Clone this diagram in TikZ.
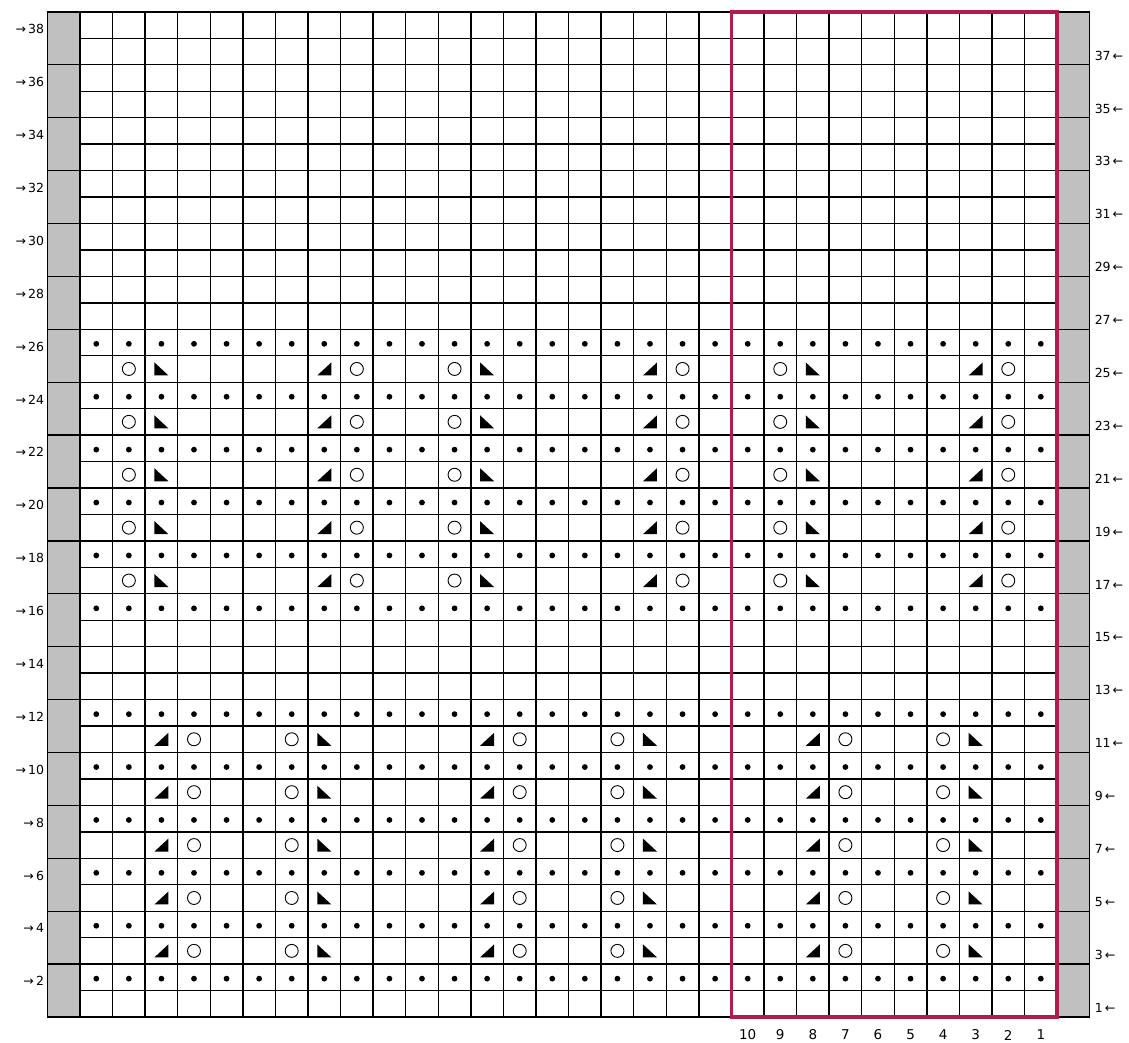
\documentclass[tikz,border=0pt]{standalone}
\usepackage{fontspec}
\setmainfont{DejaVu Sans}
\usetikzlibrary{positioning}
\definecolor{chred}{RGB}{176,28,80}
\definecolor{chgray}{RGB}{192,192,192}

\begin{document}
\begin{tikzpicture}[x=1pt,y=1pt,
    gl/.style={line width=1.35pt,line cap=rect},
    knot/.style={fill=black},
    yo/.style={draw=black,line width=0.9pt},
    dec/.style={fill=black},
    lbl/.style={font=\fontsize{12.5}{14}\selectfont,inner sep=0pt},
    num/.style={font=\fontsize{13.5}{15}\selectfont,inner sep=0pt}]
  \useasboundingbox (0,0) rectangle (1129,1043);
  \begin{scope}[shift={(80pt,26pt)},x=32.57pt,y=26.45pt]
    % edge columns
    \fill[chgray] (-1,0) rectangle (0,38);
    \fill[chgray] (30,0) rectangle (31,38);
    \draw[gl] (-1,0) rectangle (0,38) (30,0) rectangle (31,38);
    \foreach \r in {2,4,...,36}
      \draw[gl] (-1,\r) -- (0,\r) (30,\r) -- (31,\r);
    % grid
    \foreach \c in {0,...,30} \draw[gl] (\c,0) -- (\c,38);
    \foreach \r in {0,...,38} \draw[gl] (0,\r) -- (30,\r);
    % purl rows
    \foreach \r in {2,4,6,8,10,12,16,18,20,22,24,26}
      \foreach \c in {1,...,30}
        \fill[knot] (\c-0.5,\r-0.55) circle[radius=2.9pt];
    % lower lace rows
    \foreach \r in {3,5,...,11}
      \foreach \k in {0,10,20} {
        \fill[dec,shift={(\k+2.5,\r-0.5)}] (-7pt,-6.5pt) -- (7pt,-6.5pt) -- (7pt,6.5pt) -- cycle;
        \draw[yo] (\k+3.5,\r-0.5) circle[radius=6.5pt];
        \draw[yo] (\k+6.5,\r-0.5) circle[radius=6.5pt];
        \fill[dec,shift={(\k+7.5,\r-0.5)}] (-7pt,-6.5pt) -- (7pt,-6.5pt) -- (-7pt,6.5pt) -- cycle;
      }
    % upper lace rows
    \foreach \r in {17,19,...,25}
      \foreach \k in {0,10,20} {
        \draw[yo] (\k+1.5,\r-0.5) circle[radius=6.5pt];
        \fill[dec,shift={(\k+2.5,\r-0.5)}] (-7pt,-6.5pt) -- (7pt,-6.5pt) -- (-7pt,6.5pt) -- cycle;
        \fill[dec,shift={(\k+7.5,\r-0.5)}] (-7pt,-6.5pt) -- (7pt,-6.5pt) -- (7pt,6.5pt) -- cycle;
        \draw[yo] (\k+8.5,\r-0.5) circle[radius=6.5pt];
      }
    % repeat box
    \draw[chred,line width=3.4pt] (20,0) rectangle (30,38);
    % row numbers
    \foreach \r in {2,4,...,38}
      \node[lbl,anchor=east,yshift=-4pt] (l\r) at (-1.1,\r-0.5) {→\,\r};
    \foreach \r in {1,3,...,37}
      \node[lbl,anchor=west,yshift=-4pt] (r\r) at (31.15,\r-0.5) {\r\,←};
    % stitch numbers
    \foreach \n in {1,...,10}
      \node[num,yshift=-18pt] (n\n) at (30.5-\n,0) {\n};
  \end{scope}
\end{tikzpicture}
\end{document}
